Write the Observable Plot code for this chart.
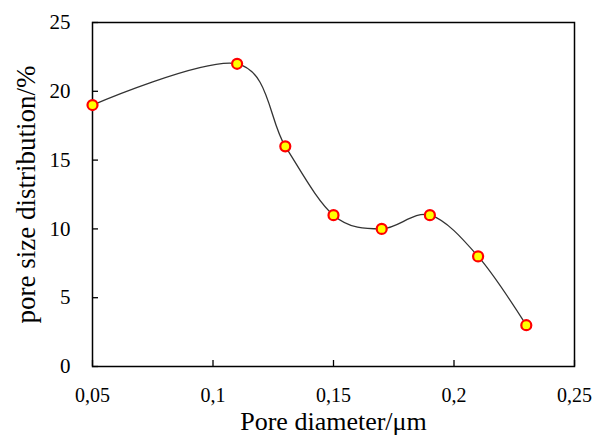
<!DOCTYPE html>
<html><head><meta charset="utf-8">
<script src="https://cdn.jsdelivr.net/npm/d3@7"></script>
<script src="https://cdn.jsdelivr.net/npm/@observablehq/plot@0.6"></script>
<style>
body{margin:0;background:#fff}
</style>
</head><body><div id="chart"></div>
<script>
const poreDiameter = [0.05, 0.11, 0.13, 0.15, 0.17, 0.19, 0.21, 0.23];
const distribution = [19, 22, 16, 11, 10, 11, 8, 3];
const xTicks = [0.05, 0.1, 0.15, 0.2, 0.25];
const yTicks = [0, 5, 10, 15, 20, 25];
const xLabel = "Pore diameter/μm";
const yLabel = "pore size distribution/%";

const data = poreDiameter.map((x, i) => ({x, y: distribution[i]}));
const W = 596, H = 435, mL = 92, mR = 22, mT = 22, mB = 69;
const fw = W - mL - mR, fh = H - mT - mB;
const fmt = d => String(d).replace(".", ",");
const FF = "'Liberation Serif', 'Times New Roman', 'DejaVu Serif', serif";

const chart = Plot.plot({
  width: W, height: H,
  marginLeft: mL, marginRight: mR, marginTop: mT, marginBottom: mB,
  style: {background: "#fff", color: "#000", fontFamily: FF},
  x: {domain: [0.05, 0.25]},
  y: {domain: [0, 25]},
  marks: [
    Plot.axisX(xTicks, {tickSize: 0, tickPadding: 21, tickFormat: fmt, fontSize: 20, fontFamily: FF, fill: "#000", label: null}),
    Plot.axisY(yTicks, {tickSize: 0, tickPadding: 22, tickFormat: fmt, fontSize: 21, fontFamily: FF, fill: "#000", label: null}),
    Plot.axisX([], {label: xLabel, labelAnchor: "center", labelArrow: "none", labelOffset: 63, fontSize: 26, fontFamily: FF, fill: "#000", tickSize: 0}),
    Plot.axisY([], {label: yLabel, labelAnchor: "center", labelArrow: "none", labelOffset: 77, fontSize: 27, fontFamily: FF, fill: "#000", tickSize: 0}),
    Plot.tickX(xTicks, {x: d => d, insetTop: fh - 6, stroke: "#000", strokeWidth: 1.3}),
    Plot.tickY(yTicks, {y: d => d, insetRight: fw - 6, stroke: "#000", strokeWidth: 1.3}),
    Plot.frame({stroke: "#000", strokeWidth: 1.5}),
    Plot.line(data, {x: "x", y: "y", curve: "cardinal", tension: 0, stroke: "#333", strokeWidth: 1.3}),
    Plot.dot(data, {x: "x", y: "y", r: 5, fill: "#ffff00", stroke: "#ff0000", strokeWidth: 2.2})
  ]
});
document.getElementById("chart").appendChild(chart);
</script>
</body></html>
